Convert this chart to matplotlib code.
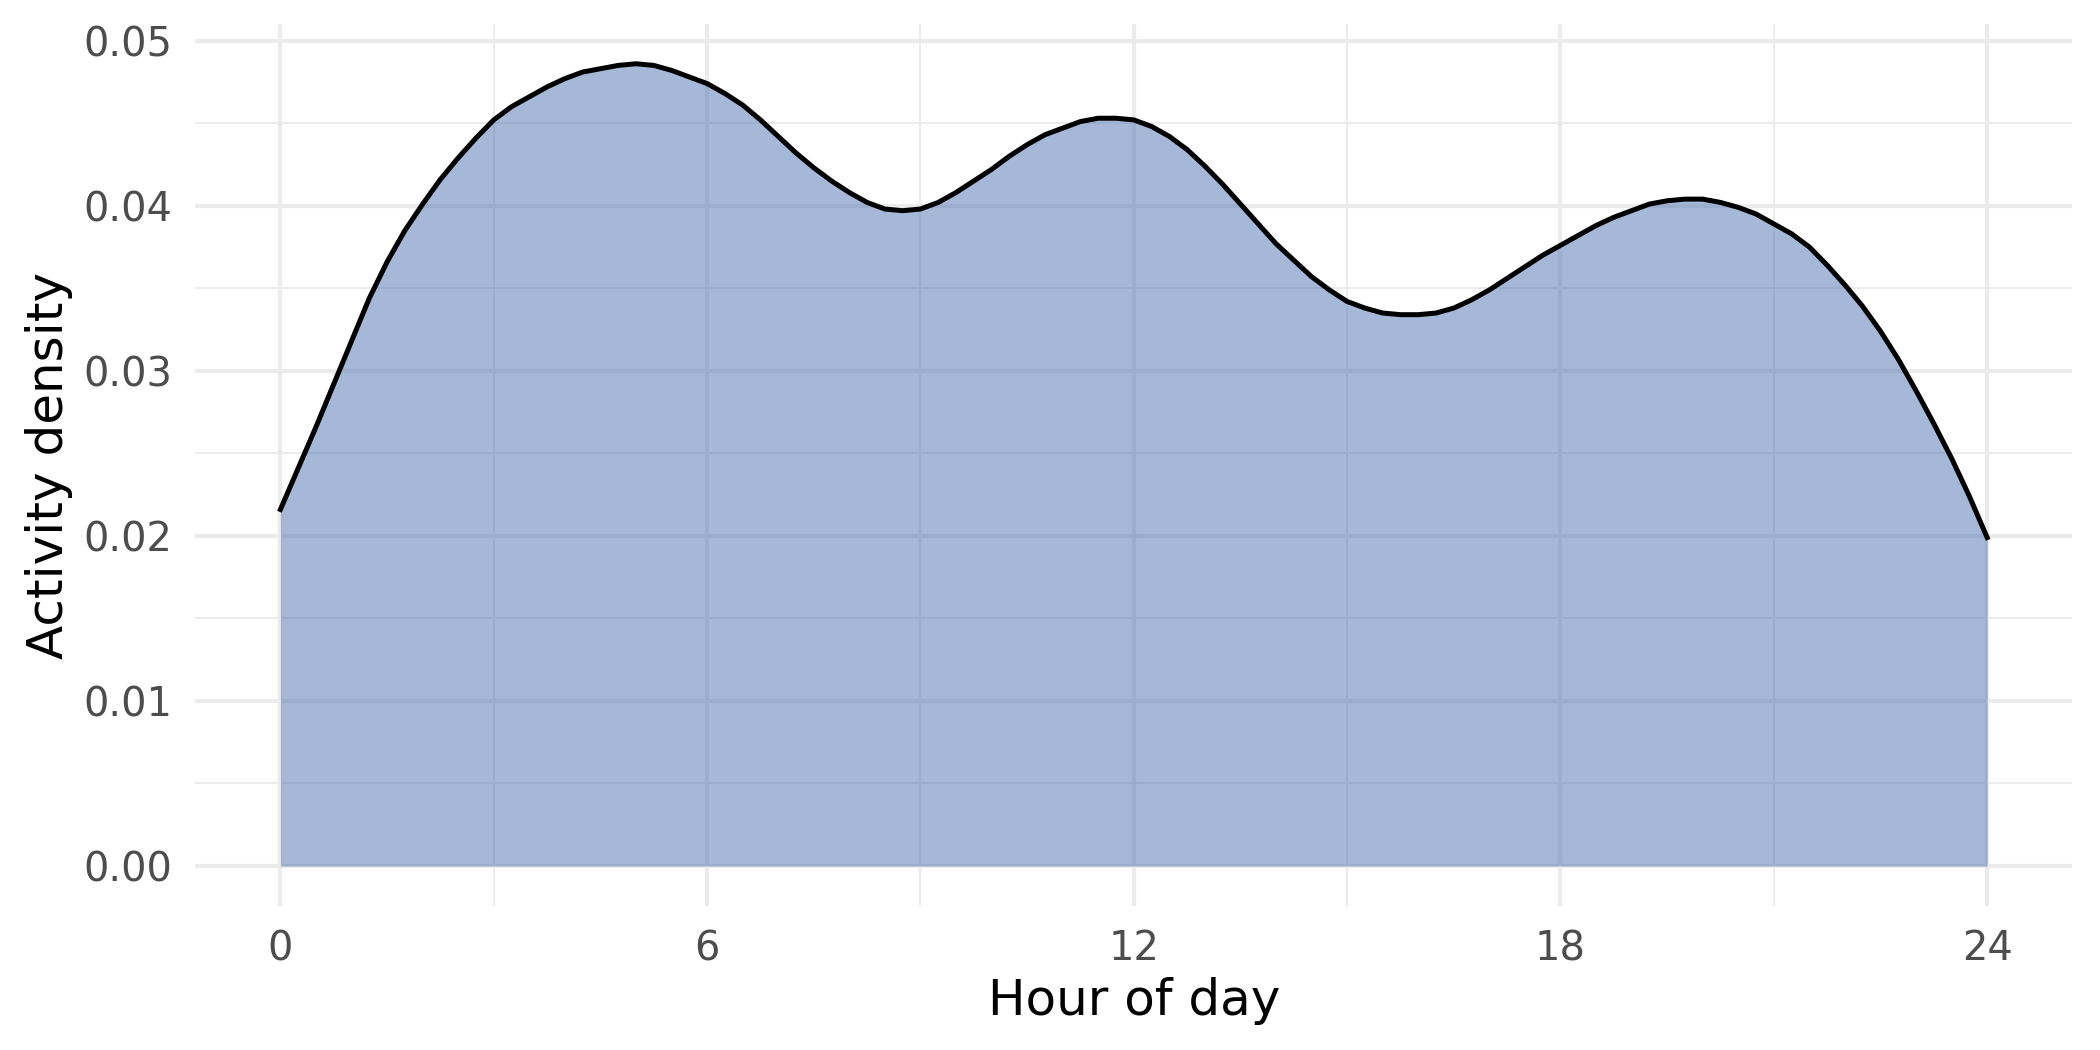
import numpy as np
import matplotlib
matplotlib.use("Agg")
import matplotlib.pyplot as plt

plt.rcParams['font.family'] = ['DejaVu Sans']

# density values, every quarter hour
hours = np.arange(0, 24.25, 0.25)
density = [
    # 0 - 6 h
    0.0216, 0.0241, 0.0266, 0.0292, 0.0318, 0.0344, 0.0366, 0.0385,
    0.0401, 0.0416, 0.0429, 0.0441, 0.0452, 0.0460, 0.0466, 0.0472,
    0.0477, 0.0481, 0.0483, 0.0485, 0.0486, 0.0485, 0.0482, 0.0478,
    # 6 - 12 h
    0.0474, 0.0468, 0.0461, 0.0452, 0.0442, 0.0432, 0.0423, 0.0415,
    0.0408, 0.0402, 0.0398, 0.0397, 0.0398, 0.0402, 0.0408, 0.0415,
    0.0422, 0.0430, 0.0437, 0.0443, 0.0447, 0.0451, 0.0453, 0.0453,
    # 12 - 18 h
    0.0452, 0.0448, 0.0442, 0.0434, 0.0424, 0.0413, 0.0401, 0.0389,
    0.0377, 0.0367, 0.0357, 0.0349, 0.0342, 0.0338, 0.0335, 0.0334,
    0.0334, 0.0335, 0.0338, 0.0343, 0.0349, 0.0356, 0.0363, 0.0370,
    # 18 - 24 h
    0.0376, 0.0382, 0.0388, 0.0393, 0.0397, 0.0401, 0.0403, 0.0404,
    0.0404, 0.0402, 0.0399, 0.0395, 0.0389, 0.0383, 0.0375, 0.0364,
    0.0352, 0.0339, 0.0324, 0.0307, 0.0288, 0.0268, 0.0247, 0.0224,
    0.0199,
]

x_major = [0, 6, 12, 18, 24]
x_minor = [3, 9, 15, 21]
y_major = [0.00, 0.01, 0.02, 0.03, 0.04, 0.05]
y_minor = [0.005, 0.015, 0.025, 0.035, 0.045]

fig = plt.figure(figsize=(7, 3.5), dpi=300)
ax = fig.add_axes([0.0929, 0.137, 0.894, 0.840])

ax.fill_between(hours, density, 0, color='#4C72B0', alpha=0.5, linewidth=0, zorder=3)
ax.plot(hours, density, color='black', linewidth=1.2, zorder=4,
        solid_joinstyle='round')

ax.set_xlim(-1.2, 25.2)
ax.set_ylim(-0.00243, 0.0510)

ax.set_xticks(x_major)
ax.set_xticks(x_minor, minor=True)
ax.set_yticks(y_major)
ax.set_yticks(y_minor, minor=True)
ax.set_yticklabels(['%.2f' % v for v in y_major])

ax.grid(which='major', color='#EBEBEB', linewidth=1.0, zorder=0)
ax.grid(which='minor', color='#EBEBEB', linewidth=0.5, zorder=0)
ax.set_axisbelow(True)

for s in ax.spines.values():
    s.set_visible(False)
ax.tick_params(which='both', length=0, labelsize=9.6, labelcolor='#4D4D4D')
ax.tick_params(axis='y', pad=5.5)
ax.tick_params(axis='x', pad=5.5)

ax.set_xlabel('Hour of day', fontsize=12, labelpad=2)
ax.set_ylabel('Activity density', fontsize=12, labelpad=2.5)

fig.savefig('out.png', dpi=300, facecolor='white')
